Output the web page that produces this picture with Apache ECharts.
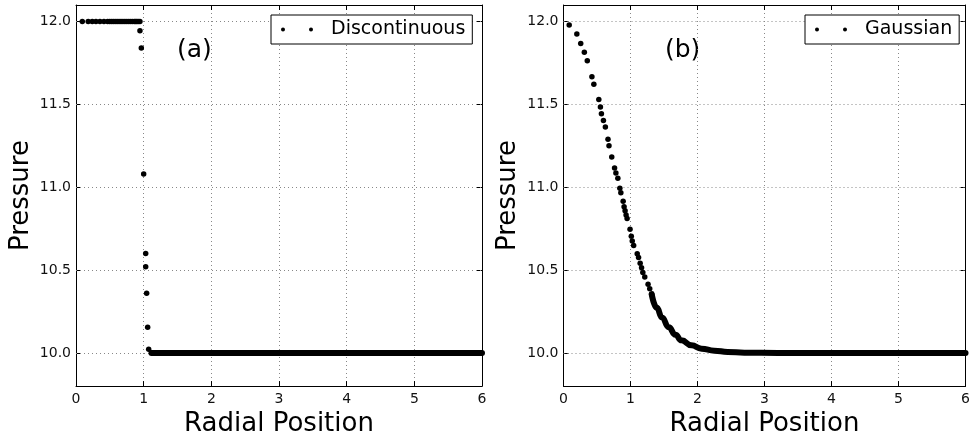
<!DOCTYPE html>
<html><head><meta charset="utf-8">
<script src="https://cdn.jsdelivr.net/npm/echarts@6/dist/echarts.min.js"></script>
<style>html,body{margin:0;padding:0;background:#fff}#c{width:973px;height:442px}</style>
</head><body><div id="c"></div>
<script>
// ---- data ----
const xTickValues = [0, 1, 2, 3, 4, 5, 6];
const yTickValues = [10.0, 10.5, 11.0, 11.5, 12.0];

// (a) Discontinuous: individual dots
const discR = [0.093, 0.18, 0.24, 0.295, 0.354, 0.413, 0.468, 0.50, 0.53, 0.56, 0.59, 0.62, 0.65, 0.68, 0.71, 0.74, 0.77, 0.80, 0.83, 0.86, 0.88, 0.90, 0.92, 0.945,
               0.945, 0.965, 1.0, 1.03, 1.03, 1.044, 1.059, 1.074];
const discP = [12.0, 12.0, 12.0, 12.0, 12.0, 12.0, 12.0, 12.0, 12.0, 12.0, 12.0, 12.0, 12.0, 12.0, 12.0, 12.0, 12.0, 12.0, 12.0, 12.0, 12.0, 12.0, 12.0, 12.0,
               11.945, 11.84, 11.08, 10.60, 10.52, 10.36, 10.155, 10.023];
// (a) densely packed dots that merge into a band
const discBandR = [1.115, 6.0];
const discBandP = [10.0, 10.0];

// (b) Gaussian: individual dots
const gaussR = [0.085, 0.199, 0.257, 0.311, 0.355, 0.424, 0.453, 0.527, 0.551, 0.566, 0.596, 0.625, 0.664, 0.679, 0.720, 0.762, 0.782, 0.811, 0.841, 0.856,
                0.890, 0.904, 0.919, 0.934, 0.949, 0.993, 1.012, 1.026, 1.047, 1.100, 1.120, 1.144, 1.165, 1.184, 1.213, 1.262, 1.287, 1.316];
const gaussP = [11.979, 11.925, 11.867, 11.815, 11.764, 11.667, 11.621, 11.530, 11.484, 11.443, 11.403, 11.363, 11.290, 11.250, 11.182, 11.117, 11.086, 11.054, 10.994, 10.967,
                10.915, 10.883, 10.859, 10.833, 10.811, 10.746, 10.704, 10.675, 10.649, 10.598, 10.576, 10.542, 10.514, 10.486, 10.458, 10.415, 10.387, 10.355];
// (b) densely packed dots that merge into a band
const gaussBandR = [1.316, 1.39, 1.47, 1.57, 1.67, 1.76, 1.91, 2.06, 2.25, 2.45, 2.7, 3.2, 6.0];
const gaussBandP = [10.355, 10.274, 10.214, 10.155, 10.11, 10.076, 10.046, 10.026, 10.014, 10.006, 10.002, 10.0, 10.0];

const seriesNames = ['Discontinuous', 'Gaussian'];
const panelLabels = ['(a)', '(b)'];

// ---- chart ----
const FONT = 'DejaVu Sans';
const zip = (a, b) => a.map((v, i) => [v, b[i]]);
const twoDots = 'path://M0,2A2,2,0,1,1,4,2A2,2,0,1,1,0,2ZM28,2A2,2,0,1,1,32,2A2,2,0,1,1,28,2Z';
const gridDots = { color: '#888', type: [1, 3], width: 1 };
// the 10.0 grid line is only visible left of the band, so it stops where the band begins
const grid10Extent = [1.1, 2.2];

const grids = [
  { left: 76, top: 5, width: 406, height: 385 },
  { left: 563.5, top: 5, width: 407, height: 385 }
];

const xAxes = [], yAxes = [];
grids.forEach((g, i) => {
  xAxes.push({
    type: 'value', gridIndex: i, position: 'bottom', min: 0, max: 6, interval: 1,
    name: 'Radial Position', nameLocation: 'middle', nameGap: 21,
    nameTextStyle: { fontFamily: FONT, fontSize: 26, color: '#000' },
    axisLine: { show: true, onZero: false, lineStyle: { color: '#000', width: 1 } },
    axisTick: { show: true, inside: true, length: 5, lineStyle: { color: '#000' } },
    axisLabel: { fontFamily: FONT, fontSize: 14, color: '#111', margin: 6,
      formatter: v => xTickValues.includes(v) ? String(v) : '' },
    splitLine: { show: true, lineStyle: Object.assign({}, gridDots) }
  });
  xAxes.push({
    type: 'value', gridIndex: i, position: 'top', min: 0, max: 6, interval: 1,
    axisLine: { show: true, onZero: false, lineStyle: { color: '#000', width: 1 } },
    axisTick: { show: true, inside: true, length: 5, lineStyle: { color: '#000' } },
    axisLabel: { show: false }, splitLine: { show: false }
  });
  yAxes.push({
    type: 'value', gridIndex: i, position: 'left', min: 9.8, max: 12.1,
    name: 'Pressure', nameLocation: 'middle', nameGap: 42,
    nameTextStyle: { fontFamily: FONT, fontSize: 26, color: '#000' },
    axisLine: { show: true, onZero: false, lineStyle: { color: '#000', width: 1 } },
    axisTick: { show: true, inside: true, length: 5, customValues: yTickValues, lineStyle: { color: '#000' } },
    axisLabel: { fontFamily: FONT, fontSize: 14, color: '#111', margin: 5, customValues: yTickValues,
      formatter: v => v.toFixed(1) },
    splitLine: { show: false }
  });
  yAxes.push({
    type: 'value', gridIndex: i, position: 'right', min: 9.8, max: 12.1,
    axisLine: { show: true, onZero: false, lineStyle: { color: '#000', width: 1 } },
    axisTick: { show: true, inside: true, length: 5, customValues: yTickValues, lineStyle: { color: '#000' } },
    axisLabel: { show: false }, splitLine: { show: false }
  });
});

// horizontal dotted grid lines at the y tick values
const hGrid = (panel) => ({
  silent: true, symbol: ['none', 'none'], z: 1, animation: false,
  label: { show: false }, emphasis: { disabled: true },
  lineStyle: Object.assign({}, gridDots),
  data: yTickValues.map(v => v === 10
    ? [{ coord: [0, v] }, { coord: [grid10Extent[panel], v] }]
    : { yAxis: v })
});

const bandLine = () => ({ color: '#000', width: 6, cap: 'round', join: 'round', opacity: 1 });

const series = [
  { type: 'scatter', name: seriesNames[0], xAxisIndex: 0, yAxisIndex: 0, symbolSize: 5.5,
    itemStyle: { color: '#000', opacity: 1 }, data: zip(discR, discP), z: 3, markLine: hGrid(0) },
  { type: 'line', name: seriesNames[0], xAxisIndex: 0, yAxisIndex: 0, showSymbol: false, symbol: 'none',
    lineStyle: bandLine(), itemStyle: { color: '#000' }, data: zip(discBandR, discBandP), z: 4, clip: true },
  { type: 'scatter', name: seriesNames[1], xAxisIndex: 2, yAxisIndex: 2, symbolSize: 5.5,
    itemStyle: { color: '#000', opacity: 1 }, data: zip(gaussR, gaussP), z: 3, markLine: hGrid(1) },
  { type: 'line', name: seriesNames[1], xAxisIndex: 2, yAxisIndex: 2, showSymbol: false, symbol: 'none',
    smooth: 0.5, smoothMonotone: 'x',
    lineStyle: bandLine(), itemStyle: { color: '#000' }, data: zip(gaussBandR, gaussBandP), z: 4, clip: true }
];

const legendCommon = {
  orient: 'horizontal', top: 15, padding: [5, 7, 5, 10],
  borderColor: '#000', borderWidth: 1, backgroundColor: '#fff', borderRadius: 0,
  itemWidth: 32, itemHeight: 4, selectedMode: false,
  textStyle: { fontFamily: FONT, fontSize: 19, color: '#000', padding: [0, 0, 0, 13] },
  z: 10
};

const option = {
  animation: false,
  backgroundColor: '#fff',
  grid: grids,
  xAxis: xAxes,
  yAxis: yAxes,
  legend: [
    Object.assign({}, legendCommon, { left: 271, data: [{ name: seriesNames[0], icon: twoDots }] }),
    Object.assign({}, legendCommon, { left: 805, data: [{ name: seriesNames[1], icon: twoDots }] })
  ],
  graphic: [
    { type: 'text', left: 177, top: 38, style: { text: panelLabels[0], font: '25px "DejaVu Sans"', fill: '#000' } },
    { type: 'text', left: 665, top: 38, style: { text: panelLabels[1], font: '25px "DejaVu Sans"', fill: '#000' } }
  ],
  series: series
};

const chart = echarts.init(document.getElementById('c'), null, { renderer: 'canvas' });
chart.setOption(option);
</script>
</body></html>
